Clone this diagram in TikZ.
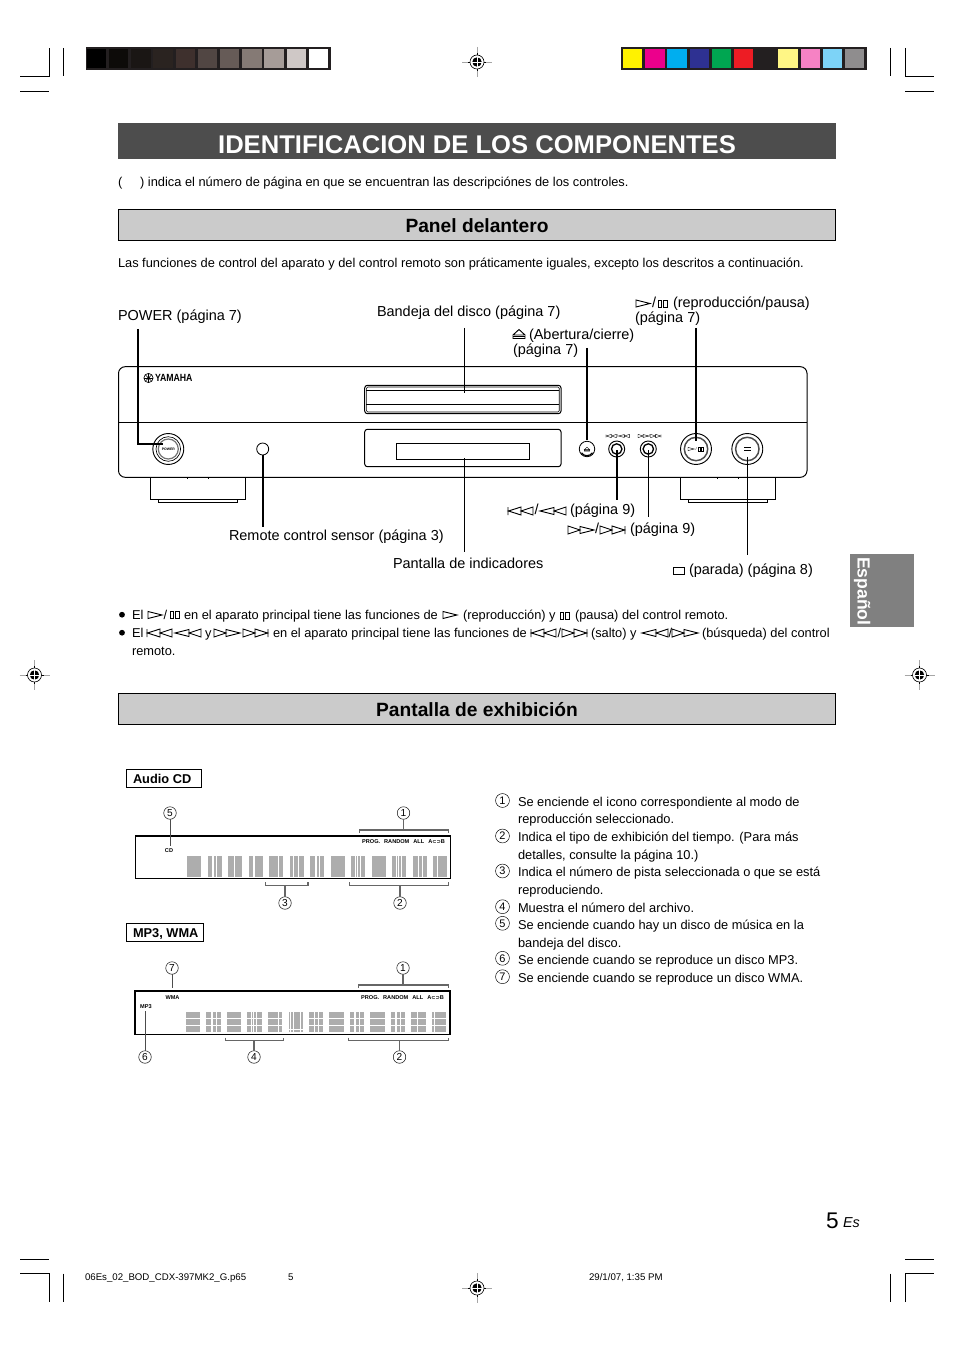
\documentclass[tikz,border=0pt]{standalone}
\usepackage{fontspec}
\setmainfont{Liberation Sans}
\newfontfamily\djv{DejaVu Sans}
\newcommand\fb{\fontsize{9.62pt}{11pt}\selectfont}
\newcommand\fl{\fontsize{10.85pt}{13pt}\selectfont}
\newcommand\fbold{\fontsize{9.6pt}{12pt}\selectfont\bfseries}
\newcommand\fh{\fontsize{14.4pt}{17pt}\selectfont\bfseries}
\newcommand\ft{\fontsize{19.2pt}{24pt}\selectfont\bfseries}
\newcommand\fd{\fontsize{4.2pt}{5pt}\selectfont\bfseries}
\newcommand\fs{\fontsize{7.25pt}{8pt}\selectfont}
\newcommand\ftxt[5]{\node[txt,font=#4] (#1) at (#2,#3) {#5};}
\newcommand\iclw{.7pt}
\definecolor{fr}{HTML}{231F20}
\definecolor{panel}{HTML}{CBCBCB}
\definecolor{bar}{HTML}{4D4D4D}
\definecolor{seg}{HTML}{ADADAD}
\definecolor{brk}{HTML}{666666}
\tikzset{
  x=0.75pt,y=-0.75pt,
  txt/.style={anchor=base west,inner sep=0pt,outer sep=0pt,text=black},
  ctr/.style={anchor=center,inner sep=0pt,outer sep=0pt},
  cnum/.style={circle,draw=black,line width=.35pt,inner sep=0pt,outer sep=0pt,minimum size=9.4pt,font=\fontsize{7.6pt}{8pt}\selectfont},
  lnum/.style={cnum,minimum size=10.4pt,font=\fontsize{8.2pt}{8pt}\selectfont},
  crop/.style={line width=.7pt,black},
  leader/.style={line width=1.2pt,black},
  brack/.style={line width=.8pt,brk},
  dev/.style={line width=.75pt,black},
  icon/.style={line width=\iclw,black,line join=miter},
  icplay/.pic={\draw[icon] (0,-3.5)--(14,0)--(0,3.5)--cycle;},
  icpause/.pic={\draw[icon] (0,-3.5) rectangle (3.6,3.5) (5.6,-3.5) rectangle (9.2,3.5);},
  iceject/.pic={\draw[icon] (0,1.5)--(6,-4)--(12,1.5)--cycle (0,3) rectangle (12,5);},
  icprev/.pic={\draw[icon] (0,-4)--(0,4) (13,-4)--(.5,0)--(13,4)--cycle (25,-4)--(13,0)--(25,4)--cycle;},
  icrew/.pic={\draw[icon] (14,-3.5)--(0,0)--(14,3.5)--cycle (26,-4)--(14,0)--(26,4)--cycle;},
  icff/.pic={\draw[icon] (0,-4)--(12,0)--(0,4)--cycle (12,-3.5)--(26,0)--(12,3.5)--cycle;},
  icnext/.pic={\draw[icon] (0,-4)--(12,0)--(0,4)--cycle (12,-4)--(24.5,0)--(12,4)--cycle (25,-4)--(25,4);},
  icstop/.pic={\draw[icon] (0,-3.5) rectangle (11,3.5);},
  regm/.pic={
    \draw[line width=.5pt,black!35] (-15,0)--(15,0) (0,-15)--(0,15);
    \draw[line width=.45pt,black] (-9,0)--(9,0) (0,-9)--(0,9);
    \draw[line width=.45pt,black,fill=white] (0,0) circle (7);
    \fill[black] (0,0) circle (4.7);
    \draw[line width=.55pt,white] (-5,0)--(5,0) (0,-5)--(0,5);
  },
}
\begin{document}
\begin{tikzpicture}
\useasboundingbox (0,0) rectangle (954,1351);
\fill[white] (0,0) rectangle (954,1351);

% crop marks
\draw[crop] (20,76.3)--(49,76.3)--(49,48) (63.3,48)--(63.3,76.3) (20,91.3)--(49,91.3);
\draw[crop] (890.3,48)--(890.3,76.3) (905.3,48)--(905.3,76.3)--(934,76.3) (905.3,91.3)--(934,91.3);
\draw[crop] (20,1259)--(49,1259) (20,1273.5)--(49,1273.5)--(49,1302) (63.3,1273.5)--(63.3,1302);
\draw[crop] (905.3,1259)--(934,1259) (890.3,1273.5)--(890.3,1302) (905.3,1302)--(905.3,1273.5)--(934,1273.5);
\pic at (477,62) {regm};
\pic at (477,1288) {regm};
\pic at (34.5,675) {regm};
\pic at (919.5,675) {regm};

% colour bars
\fill[fr] (86,47) rectangle (331,70);
\foreach \i/\c in {0/000000,1/0D0B09,2/1A1614,3/2A2320,4/3E302D,5/514643,6/665B57,7/857A75,8/A69C98,9/CFC8C6,10/FFFFFF}{
  \definecolor{cc}{HTML}{\c}\fill[cc] ({86.7+22.2*\i},49) rectangle ++(19.4,18.7);}
\fill[fr] (621,47) rectangle (867,70);
\foreach \i/\c in {0/FFF200,1/EC008C,2/00AEEF,3/2E3192,4/00A651,5/ED1C24,6/231F20,7/FFF685,8/F682C4,9/7DD3F7,10/8F8D8E}{
  \definecolor{cc}{HTML}{\c}\fill[cc] ({623+22.2*\i},49) rectangle ++(19.4,18.7);}

% title
\fill[bar] (118,123) rectangle (836,159);
\node[txt,font=\ft,text=white,anchor=base] (title) at (477,153.5) {IDENTIFICACION DE LOS COMPONENTES};
\ftxt{intro}{118}{187}{\fb}{(\hspace{13.4pt}) indica el número de página en que se encuentran las descripciónes de los controles.}

% section 1
\draw[line width=.75pt,black,fill=panel] (118.3,209.5) rectangle (835.7,240.7);
\node[txt,font=\fh,anchor=base] (panel) at (477,232.5) {Panel delantero};
\ftxt{funcs}{118}{268}{\fb}{Las funciones de control del aparato y del control remoto son práticamente iguales, excepto los descritos a continuación.}

% device
\draw[dev,rounded corners=5pt] (118.5,366.7) rectangle (807,477.3);
\draw[dev] (118.5,422.3)--(807,422.3);
\draw[dev] (150.5,478)--(150.5,499.5)--(245.5,499.5)--(245.5,478);
\draw[dev] (158,499.5)--(158,502.6)--(237.6,502.6)--(237.6,499.5);
\draw[dev] (680.5,478)--(680.5,499.5)--(775.6,499.5)--(775.6,478);
\draw[dev] (688,499.5)--(688,502.6)--(767,502.6)--(767,499.5);
\draw[line width=.4pt] (187,477)--(187,479) (208,477)--(208,479) (717,477)--(717,479) (738,477)--(738,479);
\draw[dev,rounded corners=2pt] (364.7,385.3) rectangle (561,413.7);
\draw[line width=.5pt,rounded corners=1pt] (366.4,387) rectangle (559.3,412);
\draw[line width=.5pt] (366.4,390)--(559.3,390) (366.4,404)--(559.3,404);
\draw[dev,rounded corners=2pt] (364.7,429.3) rectangle (561,466.7);
\draw[dev] (396.3,443.3) rectangle (529.3,459.3);

% logo
\fill[black] (148.5,378) circle (1.5);
\draw[line width=.5pt] (148.5,378) circle (4.6);
\foreach \a in {0,45,...,315}{\draw[line width=.3pt] (148.5,378) -- ++(\a:4.4);}
\node[txt,font=\fontsize{7.8pt}{8pt}\selectfont\bfseries] (yamaha) at (155,381.7) {\scalebox{.84}[1]{YAMAHA}};

% buttons
\node[circle,draw,line width=.7pt,minimum size=23.2pt,inner sep=0pt,outer sep=0pt] (pwr) at (168.3,449) {};
\draw[line width=.5pt] (pwr.center) circle (12.3);
\draw[line width=.9pt,black!55] (pwr.center) circle (10);
\node[ctr,font=\fontsize{2.6pt}{3pt}\selectfont\bfseries] (pwrt) at (168.3,449) {POWER};
\node[circle,draw,line width=.6pt,minimum size=9pt,inner sep=0pt,outer sep=0pt] (sens) at (262.7,449) {};
\node[circle,draw,line width=.6pt,minimum size=11.6pt,inner sep=0pt,outer sep=0pt] (ejb) at (587,449) {};
\draw[line width=.9pt] ([shift={(587,449)}]35:6.7) arc (35:145:6.7);
\begin{scope}
\renewcommand\iclw{.3pt}
\pic[scale=.45] at (584.3,449) {iceject};
\pic[scale=.42] at (606,436) {icprev};
\node[ctr,font=\fontsize{3pt}{3pt}\selectfont] (s1) at (617.5,436) {/};
\pic[scale=.42] at (618.5,436) {icrew};
\pic[scale=.42] at (638,436) {icff};
\node[ctr,font=\fontsize{3pt}{3pt}\selectfont] (s2) at (649.5,436) {/};
\pic[scale=.42] at (650.5,436) {icnext};
\pic[scale=.45] at (688,449) {icplay};
\node[ctr,font=\fontsize{3pt}{3pt}\selectfont] (s3) at (696.2,449) {/};
\pic[scale=.55] at (698.3,449) {icpause};
\end{scope}
\node[circle,draw,line width=.7pt,minimum size=12pt,inner sep=0pt,outer sep=0pt] (pvb) at (616.7,449) {};
\draw[line width=1pt] (pvb.center) circle (5.2);
\node[circle,draw,line width=.7pt,minimum size=12pt,inner sep=0pt,outer sep=0pt] (nxb) at (648.3,449) {};
\draw[line width=1pt] (nxb.center) circle (5.2);
\node[circle,draw,line width=.7pt,minimum size=23.2pt,inner sep=0pt,outer sep=0pt] (plb) at (696,449) {};
\draw[line width=1.1pt,black!70] (plb.center) circle (11.7);
\node[circle,draw,line width=.7pt,minimum size=23.2pt,inner sep=0pt,outer sep=0pt] (stb) at (747.3,449) {};
\draw[line width=1.1pt,black!70] (stb.center) circle (11.7);
\draw[line width=.5pt] (744,447.3)--(750.6,447.3) (744,450.7)--(750.6,450.7);

% labels device
\ftxt{lpwr}{118}{321}{\fl}{POWER (página 7)}
\ftxt{lbnd}{377}{317}{\fl}{Bandeja del disco (página 7)}
\pic at (636,303.5) {icplay};
\ftxt{lpl0}{652}{308}{\fl}{/}
\pic at (658,304) {icpause};
\ftxt{lpl1}{673}{308}{\fl}{(reproducción/pausa)}
\ftxt{lpl2}{635}{323}{\fl}{(página 7)}
\pic at (513,333.5) {iceject};
\ftxt{lej1}{529}{340}{\fl}{(Abertura/cierre)}
\ftxt{lej2}{513}{354}{\fl}{(página 7)}
\ftxt{lsen}{229}{540.5}{\fl}{Remote control sensor (página 3)}
\ftxt{lpan}{393}{568}{\fl}{Pantalla de indicadores}
\pic at (508,511) {icprev};
\ftxt{lpv0}{534.5}{514}{\fl}{/}
\pic at (540,511) {icrew};
\ftxt{lpv1}{570}{514}{\fl}{(página 9)}
\pic at (568,530) {icff};
\ftxt{lnx0}{595}{533}{\fl}{/}
\pic at (600,530) {icnext};
\ftxt{lnx1}{630}{533}{\fl}{(página 9)}
\pic at (673,571) {icstop};
\ftxt{lst1}{689}{574}{\fl}{(parada) (página 8)}

% leaders
\coordinate (a1) at (137.8,329);
\coordinate (a2) at (137.8,443.7);
\coordinate (a3) at (163,443.7);
\draw[leader] (a1)--(a2)--(a3);
\coordinate (b1) at (464.7,328);
\coordinate (b2) at (464.7,393);
\draw[line width=.75pt] (b1)--(b2);
\coordinate (p1) at (464.7,458);
\coordinate (p2) at (464.7,551.7);
\draw[line width=.75pt] (p1)--(p2);
\coordinate (e1) at (587,348);
\coordinate (e2) at (587,440);
\draw[line width=.85pt] (e1)--(e2);
\coordinate (m1) at (696,328);
\coordinate (m2) at (696,441);
\draw[leader] (m1)--(m2);
\coordinate (t1) at (747.3,456.7);
\coordinate (t2) at (747.3,555);
\draw[line width=.75pt] (t1)--(t2);
\coordinate (v1) at (616.7,450);
\coordinate (v2) at (616.7,500);
\draw[leader] (v1)--(v2);
\coordinate (n1) at (648.3,450);
\coordinate (n2) at (648.3,516.7);
\draw[leader] (n1)--(n2);
\coordinate (r2) at (262.7,527);
\draw[leader] (sens.south)--(r2);

% bullets
\fill[black] (122,614.7) circle (2.9);
\ftxt{b1a}{132}{619}{\fb}{El}
\pic at (148,615) {icplay};
\ftxt{b1b}{163.5}{619}{\fb}{/}
\pic at (170,615) {icpause};
\ftxt{b1c}{184}{619}{\fb}{en el aparato principal tiene las funciones de}
\pic at (443,615) {icplay};
\ftxt{b1d}{463}{619}{\fb}{(reproducción) y}
\pic[line width=.9pt] at (560,615.5) {icpause};
\ftxt{b1e}{575}{619}{\fb}{(pausa) del control remoto.}
\fill[black] (122,632.7) circle (2.9);
\ftxt{b2a}{132}{637}{\fb}{El}
\pic at (147,633) {icprev};
\pic at (175,633) {icrew};
\ftxt{b2b}{205}{637}{\fb}{y}
\pic at (214,633) {icff};
\pic at (243,633) {icnext};
\ftxt{b2c}{273}{637}{\fb}{en el aparato principal tiene las funciones de}
\pic at (531,633) {icprev};
\ftxt{b2d}{557.5}{637}{\fb}{/}
\pic at (562,633) {icnext};
\ftxt{b2e}{591}{637}{\fb}{(salto) y}
\pic at (642,633) {icrew};
\ftxt{b2f}{668.5}{637}{\fb}{/}
\pic at (672,633) {icff};
\ftxt{b2g}{702}{637}{\fb}{(búsqueda) del control}
\ftxt{b3}{132}{655}{\fb}{remoto.}

% tab
\fill[black!50] (849.5,554) rectangle (914,627);
\node[txt,font=\fontsize{13.2pt}{14pt}\selectfont\bfseries,text=white,rotate=-90] (tab) at (857.5,557) {Español};

% section 2
\draw[line width=.75pt,black,fill=panel] (118.3,693.5) rectangle (835.7,724.7);
\node[txt,font=\fh,anchor=base] (pant) at (477,716) {Pantalla de exhibición};

% Audio CD
\node[draw,line width=.75pt,minimum width=56.2pt,minimum height=13.5pt,inner sep=0pt] (acd) at (164.2,778.3) {};
\ftxt{acdt}{133}{783}{\fbold}{Audio CD}
\draw[line width=.9pt] (135.7,836) rectangle (450.5,878.3);
\foreach \i/\a/\b in {0/-1/-1,1/.32/.62,2/-1/-1,3/.35/-1,4/.65/-1,5/.25/.6,6/.4/.68,7/-1/-1,8/.3/.65,9/-1/-1,10/.3/.65,11/.68/-1,12/.3/-1}{
  \fill[seg] ({187+20.5*\i},856) rectangle ++(14.4,21.3);
  \draw[white,line width=.75pt] ({187+20.5*\i+14.4*\a},856)--++(0,21.3) ({187+20.5*\i+14.4*\b},856)--++(0,21.3);
}
\node[ctr,font=\fd] (cdt) at (169,851) {CD};
\node[ctr,font=\fd] (pr1) at (403.5,842) {PROG.\hspace{3pt}RANDOM\hspace{3pt}ALL\hspace{3pt}A{\djv\fontsize{3.8pt}{5pt}\selectfont ⊂⊃}B};
\node[cnum] (c5) at (170,813) {5};
\node[cnum] (c1) at (403.5,813) {1};
\node[cnum] (c3) at (285,903) {3};
\node[cnum] (c2) at (400,903) {2};
\coordinate (c5e) at (170,846);
\draw[line width=.45pt,black!70] (c5.south)--(c5e);
\coordinate (c1e) at (403.5,830);
\coordinate (c2e) at (400,885.7);
\coordinate (c3e) at (285,885.7);
\draw[brack] (359.5,833)--(359.5,830)--(448.7,830)--(448.7,833);
\draw[brack] (c1.south)--(c1e);
\draw[brack] (349.5,882)--(349.5,885.7)--(448.7,885.7)--(448.7,882);
\draw[line width=.9pt,brk] (c2.north)--(c2e);
\draw[brack] (265.7,882)--(265.7,885.7)--(308,885.7)--(308,882);
\draw[brack] (c3.north)--(c3e);

% MP3, WMA
\node[draw,line width=.75pt,minimum width=58pt,minimum height=13.2pt,inner sep=0pt] (mwm) at (165.3,932.2) {};
\ftxt{mwmt}{133}{937}{\fbold}{MP3, WMA}
\draw[line width=1.2pt] (134.7,991) rectangle (450,1034.3);
\foreach \i/\a/\b in {0/-1/-1,1/.35/.68,2/-1/-1,3/.3/.62,4/.72/-1,6/.68/-1,7/-1/-1,8/.3/.65,9/-1/-1,10/.3/.65,11/-1/-1,12/.2/-1}{
  \fill[seg] ({185.7+20.5*\i},1011.7) rectangle ++(14.4,20.6);
  \draw[white,line width=.6pt] ({185.7+20.5*\i+14.4*\a},1011.7)--++(0,20.6) ({185.7+20.5*\i+14.4*\b},1011.7)--++(0,20.6);
  \draw[white,line width=.6pt] ({185.7+20.5*\i},1018.5)--++(14.4,0) ({185.7+20.5*\i},1025)--++(14.4,0);
}
\fill[seg] (288.7,1011.7) rectangle ++(14.4,20.6);
\draw[white,line width=.6pt] (290.7,1011.7)--++(0,20.6) (292.9,1011.7)--++(0,20.6) (300.8,1011.7)--++(0,20.6) (288.7,1029.3)--++(14.4,0);
\node[ctr,font=\fd] (wmat) at (172.5,998) {WMA};
\node[ctr,font=\fd] (mp3t) at (146,1007) {MP3};
\node[ctr,font=\fd] (pr2) at (402.5,998) {PROG.\hspace{3pt}RANDOM\hspace{3pt}ALL\hspace{3pt}A{\djv\fontsize{3.8pt}{5pt}\selectfont ⊂⊃}B};
\node[cnum] (d7) at (172,968) {7};
\node[cnum] (d1) at (403,968) {1};
\node[cnum] (d6) at (145,1057) {6};
\node[cnum] (d4) at (254,1057) {4};
\node[cnum] (d2) at (399.5,1057) {2};
\coordinate (d7e) at (172,988);
\draw[line width=.7pt,black!70] (d7.south)--(d7e);
\coordinate (d6e) at (145,1011);
\draw[line width=.6pt,black!70] (d6.north)--(d6e);
\coordinate (d1e) at (403,985);
\coordinate (d2e) at (399.5,1040.7);
\coordinate (d4e) at (254,1040.7);
\draw[brack] (358.7,988)--(358.7,985)--(448.7,985)--(448.7,988);
\draw[brack] (d1.south)--(d1e);
\draw[line width=.9pt,brk] (348.7,1037.5)--(348.7,1040.7)--(448.7,1040.7)--(448.7,1037.5);
\draw[brack] (d2.north)--(d2e);
\draw[line width=.9pt,brk] (225.3,1037.5)--(225.3,1040.7)--(283.7,1040.7)--(283.7,1037.5);
\draw[brack] (d4.north)--(d4e);

% list
\node[lnum] (l1) at (502.5,800.5) {1};
\node[lnum] (l2) at (502.5,836) {2};
\node[lnum] (l3) at (502.5,871) {3};
\node[lnum] (l4) at (502.5,906.7) {4};
\node[lnum] (l5) at (502.5,923.3) {5};
\node[lnum] (l6) at (502.5,958.3) {6};
\node[lnum] (l7) at (502.5,976.7) {7};
\ftxt{t1a}{518}{806}{\fb}{Se enciende el icono correspondiente al modo de}
\ftxt{t1b}{518}{823}{\fb}{reproducción seleccionado.}
\ftxt{t2a}{518}{841}{\fb}{Indica el tipo de exhibición del tiempo. (Para más}
\ftxt{t2b}{518}{859}{\fb}{detalles, consulte la página 10.)}
\ftxt{t3a}{518}{876}{\fb}{Indica el número de pista seleccionada o que se está}
\ftxt{t3b}{518}{894}{\fb}{reproduciendo.}
\ftxt{t4a}{518}{912}{\fb}{Muestra el número del archivo.}
\ftxt{t5a}{518}{929}{\fb}{Se enciende cuando hay un disco de música en la}
\ftxt{t5b}{518}{947}{\fb}{bandeja del disco.}
\ftxt{t6a}{518}{964}{\fb}{Se enciende cuando se reproduce un disco MP3.}
\ftxt{t7a}{518}{982}{\fb}{Se enciende cuando se reproduce un disco WMA.}

% page number and footer
\ftxt{pg}{826}{1228}{\fontsize{17pt}{20pt}\selectfont}{5}
\ftxt{pges}{843}{1227}{\fontsize{10.8pt}{13pt}\selectfont\itshape}{Es}
\ftxt{f1}{85}{1280}{\fs}{06Es\_02\_BOD\_CDX-397MK2\_G.p65}
\ftxt{f2}{288}{1280}{\fs}{5}
\ftxt{f3}{589}{1280}{\fs}{29/1/07, 1:35 PM}
\end{tikzpicture}
\end{document}
